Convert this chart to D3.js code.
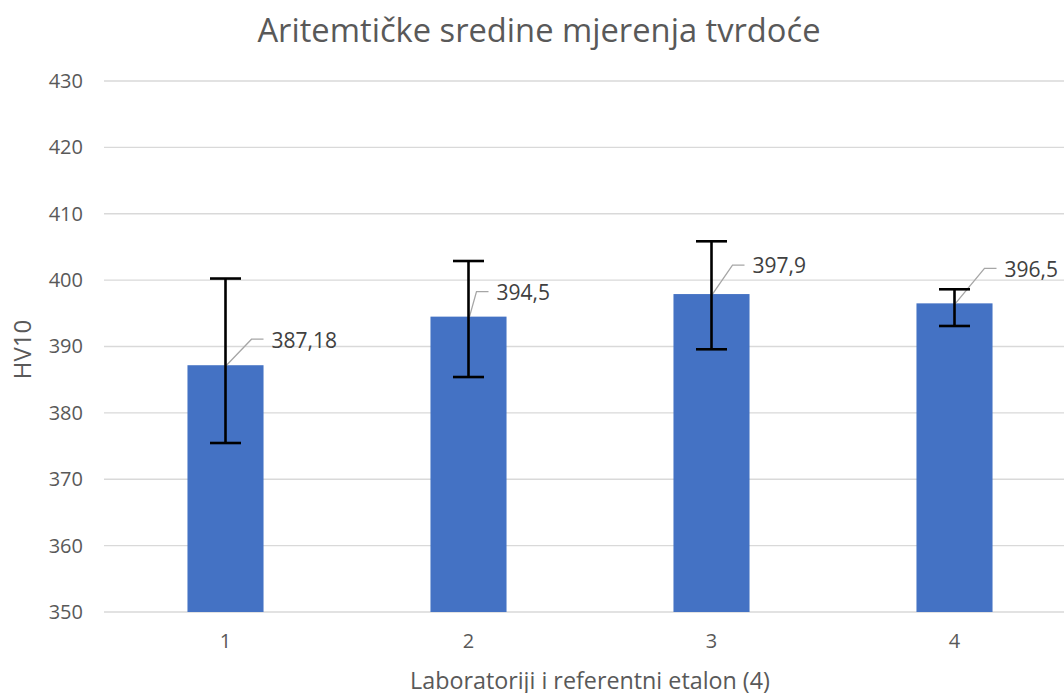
<!DOCTYPE html>
<html>
<head>
<meta charset="utf-8">
<script src="https://cdn.jsdelivr.net/npm/d3@7"></script>
<style>
  html, body { margin: 0; padding: 0; background: #fff; }
  svg { display: block; font-family: "Open Sans", "Noto Sans", sans-serif; }
</style>
</head>
<body>
<div id="chart"></div>
<script>
(function () {
  const WIDTH  = 1064;
  const HEIGHT = 693;
  const MARGIN = { top: 81, right: -12, bottom: 81, left: 104 };

  // data
  const categories = ["1", "2", "3", "4"];
  const means      = [387.18, 394.5, 397.9, 396.5];
  const errPlus    = [13.06, 8.38, 7.95, 2.12];
  const errMinus   = [11.72, 9.10, 8.32, 3.41];
  const valueLabels = ["387,18", "394,5", "397,9", "396,5"];
  const yTicks     = [350, 360, 370, 380, 390, 400, 410, 420, 430];

  // hand-placed label offsets (relative to bar top centre)
  const LABEL_SHIFT = [[46, -25], [28, -24], [41, -28], [50, -34]];

  const data = categories.map((c, i) => ({
    cat: c, mean: means[i], hi: means[i] + errPlus[i], lo: means[i] - errMinus[i],
    label: valueLabels[i], shift: LABEL_SHIFT[i]
  }));

  const svg = d3.select("#chart").append("svg")
    .attr("width", WIDTH)
    .attr("height", HEIGHT);

  const x = d3.scaleBand()
    .domain(categories)
    .range([MARGIN.left, WIDTH - MARGIN.right])
    .paddingInner(0.687)
    .paddingOuter(0.3435);

  const y = d3.scaleLinear()
    .domain([350, 430])
    .range([HEIGHT - MARGIN.bottom, MARGIN.top]);

  // gridlines
  svg.append("g")
    .selectAll("line")
    .data(yTicks)
    .join("line")
      .attr("x1", MARGIN.left)
      .attr("x2", WIDTH - MARGIN.right)
      .attr("y1", d => y(d))
      .attr("y2", d => y(d))
      .attr("stroke", "#d9d9d9")
      .attr("stroke-width", 1.3);

  // y axis labels
  const yAxis = svg.append("g")
    .attr("transform", `translate(${MARGIN.left},0)`)
    .call(d3.axisLeft(y).tickValues(yTicks).tickSize(0).tickPadding(21));
  yAxis.select(".domain").remove();
  yAxis.selectAll("text")
    .attr("fill", "#595959")
    .attr("font-size", "20px")
    .attr("font-family", "'Open Sans', sans-serif");

  // x axis labels
  const xAxis = svg.append("g")
    .attr("transform", `translate(0,${y(350)})`)
    .call(d3.axisBottom(x).tickSize(0).tickPadding(22));
  xAxis.select(".domain").remove();
  xAxis.selectAll("text")
    .attr("fill", "#595959")
    .attr("font-size", "20px")
    .attr("font-family", "'Open Sans', sans-serif");

  // bars
  svg.append("g")
    .selectAll("rect")
    .data(data)
    .join("rect")
      .attr("x", d => x(d.cat))
      .attr("width", x.bandwidth())
      .attr("y", d => y(d.mean))
      .attr("height", d => y(350) - y(d.mean))
      .attr("fill", "#4472c4");

  // leader lines
  svg.append("g")
    .selectAll("path")
    .data(data)
    .join("path")
      .attr("fill", "none")
      .attr("stroke", "#a6a6a6")
      .attr("stroke-width", 1.3)
      .attr("d", d => {
        const cx = x(d.cat) + x.bandwidth() / 2;
        const cy = y(d.mean);
        const tx = cx + d.shift[0];
        const ty = cy + d.shift[1];
        return `M${cx + 1},${cy} L${tx - 20},${ty - 1} H${tx - 8}`;
      });

  // error bars
  const capHalf = 15.5;
  const err = svg.append("g")
    .attr("stroke", "#000")
    .attr("stroke-width", 2.6);
  err.selectAll("line.stem")
    .data(data)
    .join("line")
      .attr("class", "stem")
      .attr("x1", d => x(d.cat) + x.bandwidth() / 2)
      .attr("x2", d => x(d.cat) + x.bandwidth() / 2)
      .attr("y1", d => y(d.hi))
      .attr("y2", d => y(d.lo));
  err.selectAll("line.capHi")
    .data(data)
    .join("line")
      .attr("class", "capHi")
      .attr("x1", d => x(d.cat) + x.bandwidth() / 2 - capHalf)
      .attr("x2", d => x(d.cat) + x.bandwidth() / 2 + capHalf)
      .attr("y1", d => y(d.hi))
      .attr("y2", d => y(d.hi));
  err.selectAll("line.capLo")
    .data(data)
    .join("line")
      .attr("class", "capLo")
      .attr("x1", d => x(d.cat) + x.bandwidth() / 2 - capHalf)
      .attr("x2", d => x(d.cat) + x.bandwidth() / 2 + capHalf)
      .attr("y1", d => y(d.lo))
      .attr("y2", d => y(d.lo));

  // value labels
  svg.append("g")
    .selectAll("text")
    .data(data)
    .join("text")
      .attr("x", d => x(d.cat) + x.bandwidth() / 2 + d.shift[0])
      .attr("y", d => y(d.mean) + d.shift[1])
      .attr("dy", "0.35em")
      .attr("font-size", "21px")
      .attr("fill", "#404040")
      .text(d => d.label);

  // title
  svg.append("text")
    .attr("x", 539)
    .attr("y", 42)
    .attr("text-anchor", "middle")
    .attr("font-size", "32.7px")
    .attr("fill", "#595959")
    .text("Aritemtičke sredine mjerenja tvrdoće");

  // axis titles
  svg.append("text")
    .attr("x", (MARGIN.left + WIDTH - MARGIN.right) / 2)
    .attr("y", 689)
    .attr("text-anchor", "middle")
    .attr("font-size", "23.3px")
    .attr("fill", "#595959")
    .text("Laboratoriji i referentni etalon (4)");

  svg.append("text")
    .attr("transform", `translate(31,${(y(350) + y(430)) / 2 + 3}) rotate(-90)`)
    .attr("text-anchor", "middle")
    .attr("font-size", "24px")
    .attr("fill", "#595959")
    .text("HV10");
})();
</script>
</body>
</html>
